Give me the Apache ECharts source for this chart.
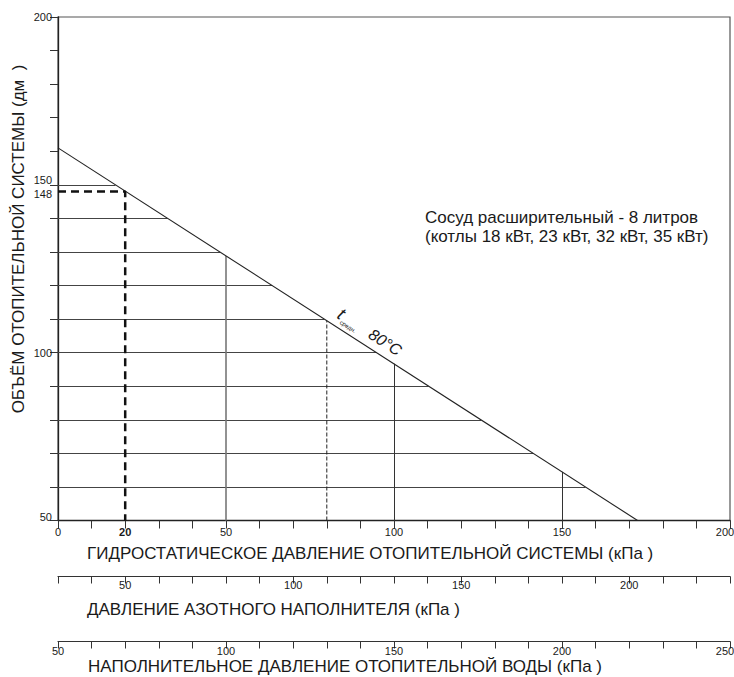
<!DOCTYPE html>
<html>
<head>
<meta charset="utf-8">
<title>Сосуд расширительный - 8 литров</title>
<script src="https://cdn.jsdelivr.net/npm/echarts@6.0.0/dist/echarts.min.js"></script>
<style>
  html, body {margin: 0; padding: 0; background: #ffffff}
  #main {width: 734px; height: 677px}
</style>
</head>
<body>
<div id="main"></div>
<script>
// диагональ t средн. 80°C (кПа -> дм3)
const lineP = [0, 172.5]
const lineV = [161, 50]
// горизонтальные линии сетки, до диагонали
const levels = [150, 140, 130, 120, 110, 100, 90, 80, 70, 60]
const levelEnds = [17.1, 32.6, 48.2, 63.7, 79.3, 94.8, 110.3, 125.9, 141.4, 157.0]
// вертикальные линии, до диагонали
const vertP = [50, 100, 150]
const vertTop = [128.8, 96.7, 64.5]
const thinDashP = 80
const thinDashTop = 109.5
// пример: 20 кПа -> 148 дм3
const exampleP = 20
const exampleV = 148

// подписи осей
const xLabels = [0, 20, 50, 100, 150, 200]
const yLabels = [50, 100, 148, 150, 200]
const nitroLabels = [50, 100, 150, 200]
const waterLabels = [50, 100, 150, 200, 250]

const FONT = "'Liberation Sans', Arial, sans-serif"
const TXT = '#1a1a1a'

let myChart = echarts.init(document.getElementById('main'), null, {renderer: 'svg'})

// подпись у правого края сдвигается влево, чтобы не обрезалась
function edgeLabel(maxV) {
    return {
        formatter: v => v === maxV ? '{r|' + v + '}' : v === exampleP && maxV === 200 ? '{b|' + v + '}' : '{n|' + v + '}',
        rich: {
            n: {fontSize: 11, fontFamily: FONT, color: TXT},
            b: {fontSize: 11, fontFamily: FONT, color: TXT, fontWeight: 'bold'},
            r: {fontSize: 11, fontFamily: FONT, color: TXT, padding: [0, 10, 0, 0]}
        }
    }
}

function lowerAxis(min, max, offset, labels, margin) {
    return {
        type: 'value',
        gridIndex: 0,
        position: 'bottom',
        offset: offset,
        min: min,
        max: max,
        interval: 10,
        axisLine: {show: true, onZero: false, lineStyle: {color: '#333', width: 1.2}},
        axisTick: {show: true, inside: false, length: 7, lineStyle: {color: '#333', width: 1}},
        splitLine: {show: false},
        axisLabel: Object.assign({customValues: labels, margin: margin, fontSize: 11, fontFamily: FONT, color: TXT},
            edgeLabel(max === 250 ? 250 : -1))
    }
}

let option = {
    animation: false,
    backgroundColor: '#ffffff',
    textStyle: {fontFamily: FONT, color: TXT},
    grid: {
        left: 58, right: 4, top: 17, bottom: 156.5,
        show: true, borderColor: '#555', borderWidth: 1.2,
        containLabel: false, outerBoundsMode: 'none'
    },
    xAxis: [
        {
            type: 'value', min: 0, max: 200, interval: 10,
            axisLine: {show: true, onZero: false, lineStyle: {color: '#222', width: 1.3}},
            axisTick: {show: true, length: 8, lineStyle: {color: '#333'}},
            splitLine: {show: false},
            axisLabel: Object.assign({customValues: xLabels, margin: 6, fontSize: 11, fontFamily: FONT, color: TXT},
                edgeLabel(200))
        },
        lowerAxis(30, 230, 56, nitroLabels, 3),
        lowerAxis(50, 250, 121, waterLabels, 4)
    ],
    yAxis: {
        type: 'value', min: 50, max: 200, interval: 10,
        axisLine: {show: true, onZero: false, lineStyle: {color: '#222', width: 1.3}},
        axisTick: {show: true, length: 8, lineStyle: {color: '#333'}},
        splitLine: {show: false},
        axisLabel: {
            customValues: yLabels, margin: 6, fontSize: 11, fontFamily: FONT, color: TXT,
            formatter: v => v === 150 ? '{up|150}' : v === 148 ? '{dn|148}' : v === 50 ? '{up50|50}' : '{n|' + v + '}',
            rich: {
                n: {fontSize: 11, fontFamily: FONT, color: TXT},
                up: {padding: [0, 0, 9, 0], fontSize: 11, fontFamily: FONT, color: TXT},
                dn: {padding: [4, 0, 0, 0], fontSize: 11, fontFamily: FONT, color: TXT},
                up50: {padding: [0, 0, 7, 0], fontSize: 11, fontFamily: FONT, color: TXT}
            }
        }
    },
    series: [
        {
            name: 'levels',
            type: 'lines',
            coordinateSystem: 'cartesian2d',
            silent: true,
            lineStyle: {color: '#444', width: 1, opacity: 1},
            data: levels.map((v, i) => ({coords: [[0, v], [levelEnds[i], v]]}))
        },
        {
            name: 'verticals',
            type: 'lines',
            coordinateSystem: 'cartesian2d',
            silent: true,
            lineStyle: {color: '#333', width: 1, opacity: 1},
            data: vertP.map((p, i) => ({
                coords: [[p, 50], [p, vertTop[i]]],
                lineStyle: i === 0 ? {color: '#777', width: 1.6} : {}
            }))
        },
        {
            name: 'thinDash',
            type: 'line',
            symbol: 'none',
            silent: true,
            lineStyle: {color: '#222', width: 1, type: [4, 2]},
            data: [[thinDashP, 50], [thinDashP, thinDashTop]]
        },
        {
            name: 't80',
            type: 'line',
            symbol: 'none',
            silent: true,
            lineStyle: {color: '#222', width: 1.1},
            data: lineP.map((p, i) => [p, lineV[i]])
        },
        {
            name: 'example',
            type: 'line',
            symbol: 'none',
            silent: true,
            lineStyle: {color: '#111', width: 2.5, type: [8, 5]},
            data: [[0, exampleV], [exampleP, exampleV], [exampleP, 50]]
        }
    ],
    graphic: [
        {
            type: 'text', x: 18.5, y: 239, rotation: Math.PI / 2,
            style: {
                text: 'ОБЪЁМ ОТОПИТЕЛЬНОЙ СИСТЕМЫ (дм  )',
                font: '17px ' + FONT, fill: TXT,
                align: 'center', verticalAlign: 'middle', textAlign: 'center', textVerticalAlign: 'middle'
            }
        },
        {
            type: 'text', x: 87, y: 553,
            style: {
                text: 'ГИДРОСТАТИЧЕСКОЕ ДАВЛЕНИЕ ОТОПИТЕЛЬНОЙ СИСТЕМЫ (кПа )',
                font: '17px ' + FONT, fill: TXT,
                verticalAlign: 'middle', textVerticalAlign: 'middle'
            }
        },
        {
            type: 'text', x: 87, y: 609,
            style: {
                text: 'ДАВЛЕНИЕ АЗОТНОГО НАПОЛНИТЕЛЯ (кПа )',
                font: '17px ' + FONT, fill: TXT,
                verticalAlign: 'middle', textVerticalAlign: 'middle'
            }
        },
        {
            type: 'text', x: 88, y: 666,
            style: {
                text: 'НАПОЛНИТЕЛЬНОЕ ДАВЛЕНИЕ ОТОПИТЕЛЬНОЙ ВОДЫ (кПа )',
                font: '17px ' + FONT, fill: TXT,
                verticalAlign: 'middle', textVerticalAlign: 'middle'
            }
        },
        {
            type: 'text', x: 425, y: 217,
            style: {
                text: 'Сосуд расширительный - 8 литров',
                font: '17px ' + FONT, fill: TXT,
                verticalAlign: 'middle', textVerticalAlign: 'middle'
            }
        },
        {
            type: 'text', x: 425, y: 236,
            style: {
                text: '(котлы 18 кВт, 23 кВт, 32 кВт, 35 кВт)',
                font: '17px ' + FONT, fill: TXT,
                verticalAlign: 'middle', textVerticalAlign: 'middle'
            }
        },
        {
            type: 'group', x: 344, y: 305, rotation: -0.572,
            children: [
                {
                    type: 'text', x: 0, y: 0,
                    style: {text: 't', font: 'italic 18px ' + FONT, fill: TXT, verticalAlign: 'top', textVerticalAlign: 'top'}
                },
                {
                    type: 'text', x: 6, y: 13,
                    style: {text: 'средн.', font: '6px ' + FONT, fill: TXT, verticalAlign: 'top', textVerticalAlign: 'top'}
                },
                {
                    type: 'text', x: 37, y: 1,
                    style: {text: '80°C', font: 'italic 16px ' + FONT, fill: TXT, verticalAlign: 'top', textVerticalAlign: 'top'}
                }
            ]
        }
    ]
}
myChart.setOption(option)
</script>
</body>
</html>
